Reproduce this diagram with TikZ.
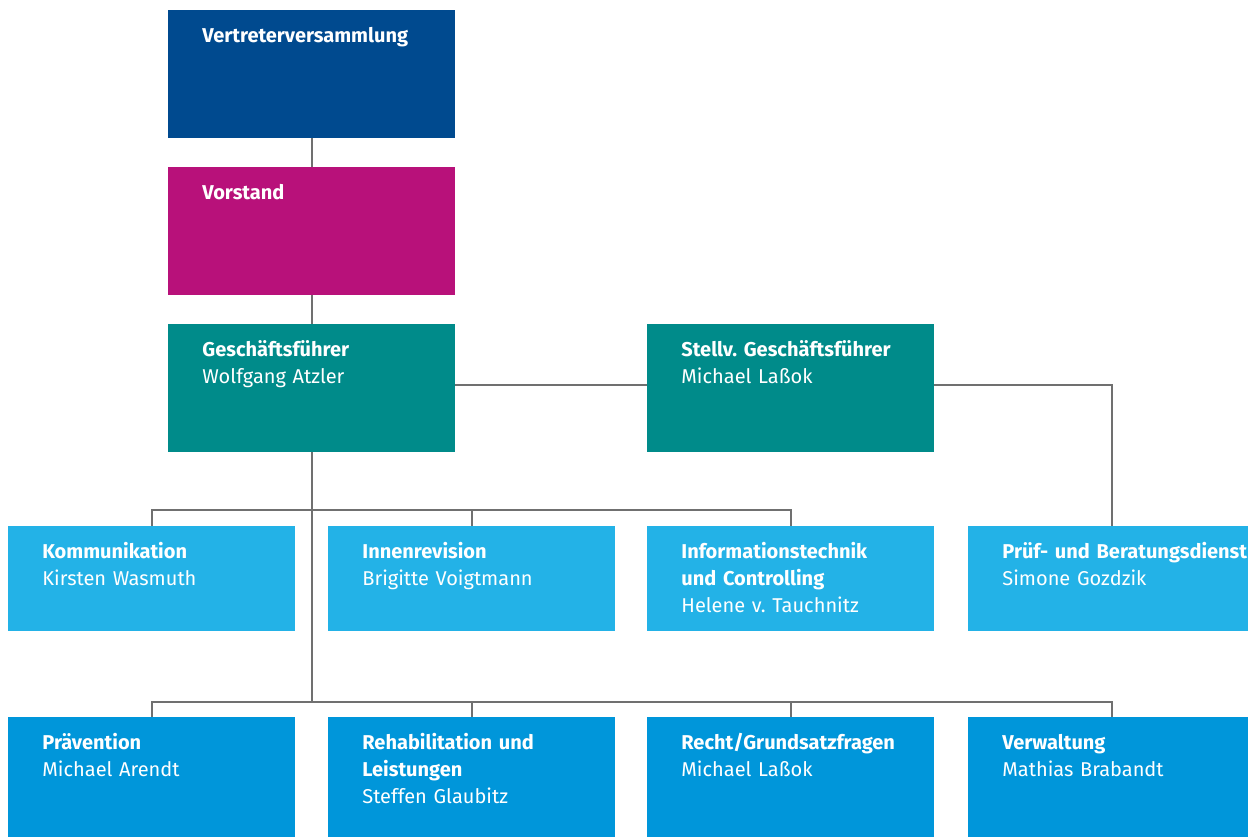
\documentclass[tikz,border=0pt]{standalone}
\usepackage{fontspec}
\setmainfont{Fira Sans}
\frenchspacing
\usetikzlibrary{positioning,calc}

\definecolor{vvblue}{HTML}{004A8F}
\definecolor{vsmag}{HTML}{B8117A}
\definecolor{gfteal}{HTML}{008B8A}
\definecolor{stabblue}{HTML}{23B2E7}
\definecolor{abtblue}{HTML}{0096DA}
\definecolor{linegray}{HTML}{707070}

\begin{document}
\begin{tikzpicture}[x=0.5pt,y=-0.5pt,
    box/.style={anchor=north west,minimum width=143.5pt,minimum height=64pt,inner sep=0pt,outer sep=0pt},
    stab/.style={box,fill=stabblue,minimum height=52.5pt},
    abt/.style={box,fill=abtblue},
    txt/.style={anchor=base west,text width=130pt,align=left,text=white,inner sep=0pt,font=\fontsize{10}{13.5}\selectfont},
    link/.style={draw=linegray,line width=1pt}]

      \useasboundingbox (0,0) rectangle (1248,836);
      \clip (0,0) rectangle (1248,836);

      % Gremien und Geschaeftsfuehrung
      \path (168,10)  node[box,fill=vvblue] (vv)  {};
      \path (168,167) node[box,fill=vsmag]  (vs)  {};
      \path (168,324) node[box,fill=gfteal] (gf)  {};
      \path (647,324) node[box,fill=gfteal] (stv) {};

      % Stabsstellen
      \path (8,526)   node[stab] (kom) {};
      \path (328,526) node[stab] (ir)  {};
      \path (647,526) node[stab] (it)  {};
      \path (968,526) node[stab] (pb)  {};

      % Abteilungen
      \path (8,717)   node[abt] (prae)  {};
      \path (328,717) node[abt] (reha)  {};
      \path (647,717) node[abt] (recht) {};
      \path (968,717) node[abt] (verw)  {};

      \path ([shift={(34,32)}]vv.north west)  node[txt] (vv-t)  {\textbf{Vertreterversammlung}};
      \path ([shift={(34,32)}]vs.north west)  node[txt] (vs-t)  {\textbf{Vorstand}};
      \path ([shift={(34,32)}]gf.north west)  node[txt] (gf-t)  {\textbf{Geschäftsführer}\\Wolfgang Atzler};
      \path ([shift={(34,32)}]stv.north west) node[txt] (stv-t) {\textbf{Stellv. Geschäftsführer}\\Michael Laßok};
      \path ([shift={(34,32)}]kom.north west) node[txt] (kom-t) {\textbf{Kommunikation}\\Kirsten Wasmuth};
      \path ([shift={(34,32)}]ir.north west)  node[txt] (ir-t)  {\textbf{Innenrevision}\\Brigitte Voigtmann};
      \path ([shift={(34,32)}]it.north west)  node[txt] (it-t)  {\textbf{Informationstechnik}\\\textbf{und Controlling}\\Helene v. Tauchnitz};
      \path ([shift={(34,32)}]pb.north west)  node[txt] (pb-t)  {\textbf{Prüf- und Beratungsdienst}\\Simone Gozdzik};
      \path ([shift={(34,32)}]prae.north west)  node[txt] (prae-t)  {\textbf{Prävention}\\Michael Arendt};
      \path ([shift={(34,32)}]reha.north west)  node[txt] (reha-t)  {\textbf{Rehabilitation und}\\\textbf{Leistungen}\\Steffen Glaubitz};
      \path ([shift={(34,32)}]recht.north west) node[txt] (recht-t) {\textbf{Recht/Grundsatzfragen}\\Michael Laßok};
      \path ([shift={(34,32)}]verw.north west)  node[txt] (verw-t)  {\textbf{Verwaltung}\\Mathias Brabandt};

      \coordinate (busA) at (311.5,510);
      \coordinate (busB) at (311.5,702);

      \draw[link] (vv) -- (vs);
      \draw[link] (vs) -- (gf);
      \draw[link] ([yshift=1.5pt]gf.east) -- ([yshift=1.5pt]stv.west);
      \draw[link] ([yshift=1.5pt]stv.east) -| (pb);
      \draw[link] (gf) -- (busB);
      \draw[link] (busA) -| (kom);
      \draw[link] (busA) -| (ir);
      \draw[link] (busA) -| (it);
      \draw[link] (busB) -| (prae);
      \draw[link] (busB) -| (reha);
      \draw[link] (busB) -| (recht);
      \draw[link] (busB) -| (verw);

    \end{tikzpicture}
\end{document}
